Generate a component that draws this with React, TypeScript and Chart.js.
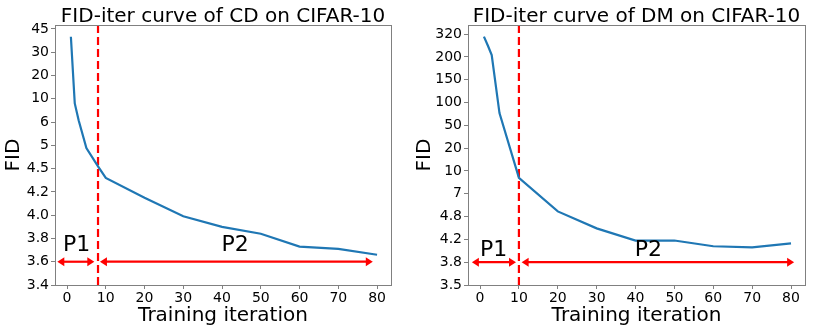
import React, { useEffect, useRef } from 'react';
import { Chart, registerables } from 'chart.js';
Chart.register(...registerables);

// ---------------- data ----------------
const xTicks = [0, 10, 20, 30, 40, 50, 60, 70, 80];

const iterCD = [1, 2, 3, 5, 8, 10, 20, 30, 40, 50, 60, 70, 80];
const fidCD = [40, 9.2, 6.3, 4.94, 4.55, 4.38, 4.15, 3.99, 3.9, 3.84, 3.73, 3.71, 3.66];
const yTicksCD = [3.4, 3.6, 3.8, 4.0, 4.2, 4.5, 5, 6, 10, 20, 30, 45];
const yLabelsCD = ['3.4', '3.6', '3.8', '4.0', '4.2', '4.5', '5', '6', '10', '20', '30', '45'];
const splitCD = 8;

const iterDM = [1, 2, 3, 5, 10, 20, 30, 40, 50, 60, 70, 80];
const fidDM = [307, 260, 210, 77, 9.1, 5.3, 4.49, 4.18, 4.18, 4.08, 4.06, 4.13];
const yTicksDM = [3.5, 3.8, 4.2, 4.8, 7, 10, 20, 50, 100, 150, 200, 320];
const yLabelsDM = ['3.5', '3.8', '4.2', '4.8', '7', '10', '20', '50', '100', '150', '200', '320'];
const splitDM = 10;

const FONT = "'DejaVu Sans', 'Liberation Sans', sans-serif";

// map a value onto the evenly spaced (piecewise linear) tick index axis
function toIndex(v: number, ticks: number[]): number {
  const n = ticks.length;
  for (let i = 0; i < n - 1; i++) {
    if (v >= ticks[i] && v <= ticks[i + 1]) return i + (v - ticks[i]) / (ticks[i + 1] - ticks[i]);
  }
  if (v < ticks[0]) return (v - ticks[0]) / (ticks[1] - ticks[0]);
  return n - 2 + (v - ticks[n - 2]) / (ticks[n - 1] - ticks[n - 2]);
}

interface Panel {
  title: string;
  iters: number[];
  fid: number[];
  yTicks: number[];
  yLabels: string[];
  split: number;
  yMax: number;
  axisWidth: number;
  padRight: number;
  yTitleX: number;
  arrowY: number;
  arrows: [number, number][];
  texts: { t: string; x: number; dy: number }[];
}

const panels: Panel[] = [
  {
    title: 'FID-iter curve of CD on CIFAR-10',
    iters: iterCD, fid: fidCD, yTicks: yTicksCD, yLabels: yLabelsCD, split: splitCD,
    yMax: 11.17, axisWidth: 55, padRight: 24, yTitleX: 14, arrowY: 3.6,
    arrows: [[-2.5, 7.05], [8.5, 78.9]],
    texts: [{ t: 'P1', x: 2.45, dy: -11 }, { t: 'P2', x: 43.4, dy: -11 }],
  },
  {
    title: 'FID-iter curve of DM on CIFAR-10',
    iters: iterDM, fid: fidDM, yTicks: yTicksDM, yLabels: yLabelsDM, split: splitDM,
    yMax: 11.4, axisWidth: 53, padRight: 25, yTitleX: 10, arrowY: 3.8,
    arrows: [[-2.1, 9.25], [10.7, 80.8]],
    texts: [{ t: 'P1', x: 3.5, dy: -6 }, { t: 'P2', x: 43.3, dy: -6 }],
  },
];

function makeConfig(p: Panel): any {
  const overlay = {
    id: 'overlay',
    afterDatasetsDraw(chart: any) {
      const { ctx, chartArea: a, scales } = chart;
      const xs = scales.x, ys = scales.y;
      ctx.save();
      // frame
      ctx.strokeStyle = '#808080';
      ctx.lineWidth = 1;
      ctx.strokeRect(a.left + 0.5, a.top + 0.5, a.right - a.left, a.bottom - a.top);
      // arrows
      const yp = ys.getPixelForValue(toIndex(p.arrowY, p.yTicks));
      ctx.strokeStyle = '#ff0000';
      ctx.fillStyle = '#ff0000';
      ctx.lineWidth = 2.2;
      for (const [x1, x2] of p.arrows) {
        const p1 = xs.getPixelForValue(x1), p2 = xs.getPixelForValue(x2);
        const L = 7, H = 4.5;
        ctx.beginPath();
        ctx.moveTo(p1 + L - 1, yp);
        ctx.lineTo(p2 - L + 1, yp);
        ctx.stroke();
        ctx.beginPath();
        ctx.moveTo(p1, yp); ctx.lineTo(p1 + L, yp - H); ctx.lineTo(p1 + L, yp + H); ctx.closePath(); ctx.fill();
        ctx.beginPath();
        ctx.moveTo(p2, yp); ctx.lineTo(p2 - L, yp - H); ctx.lineTo(p2 - L, yp + H); ctx.closePath(); ctx.fill();
      }
      // P labels
      ctx.fillStyle = '#000';
      ctx.font = `22px ${FONT}`;
      ctx.textAlign = 'center';
      ctx.textBaseline = 'alphabetic';
      for (const t of p.texts) ctx.fillText(t.t, xs.getPixelForValue(t.x), yp + t.dy);
      // title
      const cx = (a.left + a.right) / 2;
      ctx.font = `20px ${FONT}`;
      ctx.fillText(p.title, cx, 22);
      // x label
      ctx.fillText('Training iteration', cx, 321);
      // y label
      ctx.save();
      ctx.translate(p.yTitleX, (a.top + a.bottom) / 2);
      ctx.rotate(-Math.PI / 2);
      ctx.textBaseline = 'middle';
      ctx.fillText('FID', 0, 0);
      ctx.restore();
      ctx.restore();
    },
  };

  return {
    type: 'line',
    data: {
      datasets: [
        {
          data: p.iters.map((x, i) => ({ x, y: toIndex(p.fid[i], p.yTicks) })),
          borderColor: '#1f77b4',
          borderWidth: 2.2,
          pointRadius: 0,
          tension: 0,
          fill: false,
        },
        {
          data: [{ x: p.split, y: 0 }, { x: p.split, y: p.yMax }],
          borderColor: '#ff0000',
          borderWidth: 2.2,
          borderDash: [8, 4],
          pointRadius: 0,
          fill: false,
        },
      ],
    },
    options: {
      animation: false,
      responsive: false,
      maintainAspectRatio: false,
      layout: { padding: { top: 25, right: p.padRight, left: 0, bottom: 0 } },
      plugins: { legend: { display: false }, tooltip: { enabled: false }, title: { display: false } },
      scales: {
        x: {
          type: 'linear',
          min: -3.1,
          max: 83.6,
          afterBuildTicks: (s: any) => { s.ticks = xTicks.map((v) => ({ value: v })); },
          afterFit: (s: any) => { s.height = 47; },
          ticks: { font: { family: FONT, size: 14 }, color: '#000', padding: 1, maxRotation: 0, autoSkip: false },
          grid: { drawOnChartArea: false, drawTicks: true, tickLength: 4, color: '#808080' },
          border: { color: '#808080', width: 1 },
        },
        y: {
          type: 'linear',
          min: 0,
          max: p.yMax,
          afterBuildTicks: (s: any) => { s.ticks = p.yLabels.map((_, i) => ({ value: i })); },
          afterFit: (s: any) => { s.width = p.axisWidth; },
          ticks: {
            font: { family: FONT, size: 14 },
            color: '#000',
            padding: 2,
            autoSkip: false,
            callback: (v: any) => p.yLabels[Math.round(v)] ?? '',
          },
          grid: { drawOnChartArea: false, drawTicks: true, tickLength: 4, color: '#808080' },
          border: { color: '#808080', width: 1 },
        },
      },
    },
    plugins: [overlay],
  };
}

function PanelChart({ p, left }: { p: Panel; left: number }) {
  const ref = useRef<HTMLCanvasElement>(null);
  useEffect(() => {
    const c = new Chart(ref.current as HTMLCanvasElement, makeConfig(p));
    return () => c.destroy();
  }, [p]);
  return (
    <canvas
      ref={ref}
      width={415}
      height={332}
      style={{ position: 'absolute', left, top: 0, width: 415, height: 332, display: 'block' }}
    />
  );
}

export default function App() {
  return (
    <div style={{ position: 'absolute', left: 0, top: 0, width: 830, height: 332, background: '#fff' }}>
      <PanelChart p={panels[0]} left={0} />
      <PanelChart p={panels[1]} left={415} />
    </div>
  );
}
